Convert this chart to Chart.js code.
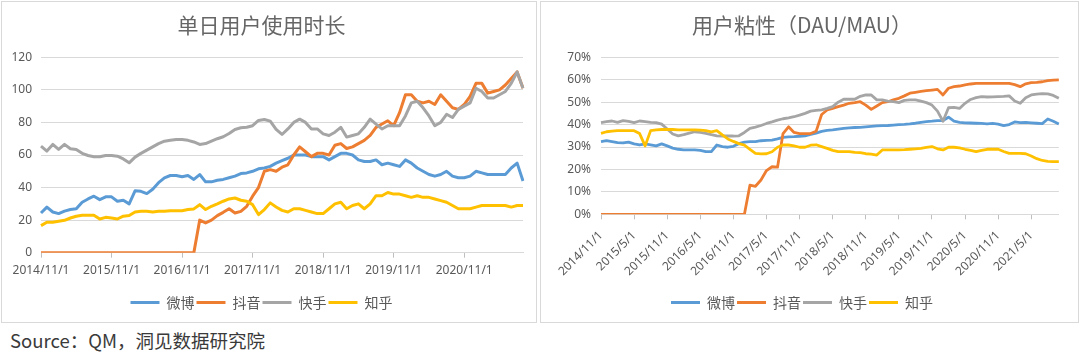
<!DOCTYPE html>
<html><head><meta charset="utf-8">
<script src="https://cdn.jsdelivr.net/npm/chart.js@4.4.1/dist/chart.umd.min.js"></script>
<style>
html,body{margin:0;padding:0;background:#fff;}
body{width:1080px;height:356px;position:relative;overflow:hidden;}
.panel{position:absolute;box-sizing:border-box;border:1px solid #d9d9d9;}
canvas{position:absolute;top:0;}
#source{position:absolute;left:10px;top:330.5px;font:18.5px/19px "Noto Sans CJK SC",sans-serif;color:#3a3a3a;white-space:nowrap;}
</style></head><body>
<div class="panel" style="left:1px;top:1px;width:536px;height:322px"></div>
<div class="panel" style="left:540px;top:1px;width:539px;height:322px"></div>
<canvas id="c1" width="540" height="322" style="left:0"></canvas>
<canvas id="c2" width="537" height="322" style="left:541px"></canvas>
<div id="source">Source：QM，洞见数据研究院</div>
<script>
// ---------- data ----------
function monthLabels(startYear, startMonth, count){
  const out=[]; let y=startYear, m=startMonth;
  for(let i=0;i<count;i++){ out.push(y+'/'+m+'/1'); m++; if(m>12){m=1;y++;} }
  return out;
}
const seriesNames = ['微博','抖音','快手','知乎'];
const seriesColors = ['#5b9bd5','#ed7d31','#a5a5a5','#ffc000'];

// 单日用户使用时长 (monthly, 2014/11 – 2021/9)
const leftCategories = monthLabels(2014, 11, 83);
const leftTickLabels = ['2014/11/1','2015/11/1','2016/11/1','2017/11/1','2018/11/1','2019/11/1','2020/11/1'];
const leftYTicks = [0,20,40,60,80,100,120];
const weiboTime = [24.4,28,25,24,25.5,26.5,27,31,33,34.7,
  32.6,34.3,34.3,31.6,32.2,30,38,37.7,36.3,39,
  43,46,47.4,47.4,46.6,47.4,45,48,43.5,43.5,
  44.5,45,46,47,48.6,49,50,51.5,52,53,
  55,56.5,58,60,60,60,59,59,59,57,
  59,61,61,60,57,56,56,57,54,55,
  54,53,57,55,52,50,48,47,48,50,
  47,46,46,47,50,49,48,48,48,48,
  52,55,44];
const douyinTime = [0,0,0,0,0,0,0,0,0,0,
  0,0,0,0,0,0,0,0,0,0,
  0,0,0,0,0,0,0,
  20,18.3,20,22.8,24.8,27,24.4,25.4,28.5,34.7,
  40,50,51,50,52.5,54,60,65,62,59,
  61,61,60,66,67,64,65,67,69,72,
  77,79,81,78,86,97,97,93,92,93,
  91,97,93,89,88,91,96,104,104,98,
  99,100,103,107,111,101];
const kuaishouTime = [65.4,62.4,66.5,63.4,66.5,63.8,63.4,61,59.7,58.9,
  58.9,59.7,59.7,59.3,57.6,55.2,58.7,61,63,65,
  67,68.5,69,69.5,69.5,69,68,66.5,67,68.5,
  70,71.2,73.2,75.7,76.7,77,78,81.2,81.8,80.8,
  75.7,72.6,76,80,82,80,76,76,73,72,
  74,77,71,72,73,77,82,79,76,78,
  78,78,84,92,93,89,84,78,80,85,
  83,88,90,92,101,99,95,95,97,99,
  104,111,101];
const zhihuTime = [16.6,18.7,18.7,19.3,19.9,21.3,22.4,23,23,23,
  20.7,21.7,21.3,20.7,22.4,22.8,25,25.4,25.4,25,
  25.4,25.4,25.8,25.8,25.8,26.5,26.9,29.5,26.5,28.5,
  30,31.6,33,33.6,32.2,31.6,29.5,23.4,26.5,30.6,
  28.1,26,25,27,27,26,25,24,24,27,
  30,31,27,29,30,27,30,35,35,37,
  36,36,35,34,35,34,34,33,32,31,
  29,27,27,27,28,29,29,29,29,29,
  28,29,29];

// 用户粘性 DAU/MAU (%, monthly, 2014/11 – 2021/10)
const rightCategories = monthLabels(2014, 11, 84);
const rightTickLabels = ['2014/11/1','2015/5/1','2015/11/1','2016/5/1','2016/11/1','2017/5/1','2017/11/1',
  '2018/5/1','2018/11/1','2019/5/1','2019/11/1','2020/5/1','2020/11/1','2021/5/1'];
const rightYTicks = [0,10,20,30,40,50,60,70];
const weiboDau = [32.4,32.8,32.4,32,31.8,32.2,31.4,30.9,31.4,31,
  30.5,31.4,30.5,29.5,29,28.7,28.7,28.7,28.5,27.9,
  27.9,30.9,30.2,29.9,30.3,31.5,32.2,32.4,32.4,32.8,
  33,33.1,33.6,34.3,34.5,34.6,34.8,35,35.6,36.2,
  37,37.4,37.6,38,38.3,38.5,38.7,38.8,39,39.2,
  39.4,39.5,39.6,39.8,40,40.1,40.3,40.6,41,41.3,
  41.5,41.8,41.8,43.3,41.5,41,40.8,40.7,40.6,40.5,
  40.3,40.5,40.2,39.5,40,41.2,40.9,41,40.8,40.6,
  40.4,42.5,41.5,40.3];
const douyinDau = [0,0,0,0,0,0,0,0,0,0,
  0,0,0,0,0,0,0,0,0,0,
  0,0,0,0,0,0,0,
  13,12.5,15.3,19.5,21.2,21,36,39,36.5,36,
  36,36,37,44.5,46.5,47.2,48,48.7,49.5,49.8,
  50.2,48.7,46.8,48.3,49.8,50.2,51,51.7,52.8,54,
  54.4,54.8,55.1,55.4,55.7,53.2,56.2,56.9,57.2,57.7,
  58.1,58.4,58.4,58.4,58.4,58.4,58.4,58.4,57.8,56.9,
  58.2,58.7,58.8,59.1,59.6,59.8,59.9];
const kuaishouDau = [40.9,41.3,41.6,41,41.8,41.4,40.9,41.6,41.3,41,
  40.9,40.2,38,35.8,35,35.5,36.2,36.8,36.5,36.1,
  35.5,35,34.9,34.9,34.9,35,36.5,38.3,38.9,39.6,
  40.5,41.2,42,42.6,43,43.5,44.2,45,46,46.3,
  46.6,47.2,48,50,51.3,51.3,51.3,52.6,53.2,53.2,
  51,51,50.5,50.2,49.8,50.8,51,51,50.5,49.8,
  48.7,46,41.5,47.5,47.7,47.2,49.5,51.2,52,52.5,
  52.3,52.4,52.5,52.6,52.8,50.5,49.5,52,53.2,53.6,
  53.8,53.7,53,51.7];
const zhihuDau = [36.1,36.8,37.1,37.3,37.3,37.3,37.3,36,30.5,37.3,
  37.6,37.8,37.9,37.8,37.6,37.6,37.6,37.6,37.5,37.3,
  36.8,37.3,35.4,33.6,32.5,31.5,30.8,29,27.2,26.9,
  27,27.9,29.9,30.9,30.9,30.5,29.9,29.9,30.8,31,
  30.2,29.4,28.5,27.9,27.9,27.9,27.6,27.5,27,26.8,
  26.4,28.7,28.7,28.7,28.7,28.8,29,29.2,29.4,29.8,
  30.2,29.2,28.7,29.9,29.9,29.6,29,28.5,27.9,28.5,
  29,29,29,28,27.2,27.2,27.2,27,26,24.8,
  24,23.6,23.5,23.5];

// ---------- chart builder ----------
const TICK_FONT = {family:'"Noto Sans", "Noto Sans CJK SC", sans-serif', size:12};
const CJK = '"Noto Sans CJK SC", sans-serif';
const GRID = '#d9d9d9';
const TEXT = '#595959';

function makeChart(id, o){
  const datasets = o.series.map((vals, k) => ({
    label: seriesNames[k],
    data: vals,
    borderColor: seriesColors[k],
    backgroundColor: seriesColors[k],
    borderWidth: o.lineWidth,
    pointRadius: 0,
    pointHoverRadius: 0,
    tension: 0,
    borderJoinStyle: 'round',
    fill: false,
    order: 4 - k
  }));
  return new Chart(document.getElementById(id), {
    type: 'line',
    data: { labels: o.categories, datasets },
    options: {
      responsive: false,
      animation: false,
      devicePixelRatio: 1,
      layout: { padding: { left: 0, right: o.padRight, top: 0, bottom: 2.5 } },
      plugins: {
        tooltip: { enabled: false },
        title: {
          display: true, text: o.title, color: '#666',
          font: { family: CJK, size: 21, weight: 'normal' },
          padding: { top: 12, bottom: 20.1 }
        },
        legend: {
          position: 'bottom',
          labels: {
            color: TEXT, font: { family: CJK, size: 14 },
            boxWidth: 29, boxHeight: 3, padding: 2,
            sort: (a, b) => a.datasetIndex - b.datasetIndex,
            generateLabels: (chart) => Chart.defaults.plugins.legend.labels.generateLabels(chart)
              .map(it => Object.assign(it, { fillStyle: it.strokeStyle, lineWidth: 0 }))
          }
        }
      },
      scales: {
        x: {
          type: 'category',
          offset: false,
          afterFit: s => { s.height = o.xAxisHeight; },
          border: { display: true, color: GRID, width: 1 },
          grid: {
            drawOnChartArea: false, drawTicks: true, tickLength: 5, tickWidth: 1,
            tickColor: ctx => (ctx.index % o.tickStep === 0) ? '#bfbfbf' : 'rgba(0,0,0,0)'
          },
          ticks: {
            autoSkip: false, maxRotation: o.rotation, minRotation: o.rotation,
            padding: o.xPad, color: TEXT, font: TICK_FONT,
            callback: (v, i) => (i % o.tickStep === 0) ? (o.tickLabels[i / o.tickStep] || '') : ''
          }
        },
        y: {
          min: o.yTicks[0], max: o.yTicks[o.yTicks.length - 1],
          afterFit: s => { s.width = o.yAxisWidth; },
          afterBuildTicks: s => { s.ticks = o.yTicks.map(v => ({ value: v })); },
          border: { display: false },
          grid: { color: GRID, lineWidth: 1, drawTicks: false },
          ticks: {
            padding: o.yPad, color: TEXT, font: TICK_FONT,
            callback: v => v + o.ySuffix
          }
        }
      }
    }
  });
}

makeChart('c1', {
  title: '单日用户使用时长',
  categories: leftCategories,
  series: [weiboTime, douyinTime, kuaishouTime, zhihuTime],
  tickLabels: leftTickLabels, tickStep: 12, rotation: 0, xPad: 5.8,
  yTicks: leftYTicks, ySuffix: '', yPad: 9,
  yAxisWidth: 41, xAxisHeight: 40.8, padRight: 17, lineWidth: 3
});
makeChart('c2', {
  title: '用户粘性（DAU/MAU）',
  categories: rightCategories,
  series: [weiboDau, douyinDau, kuaishouDau, zhihuDau],
  tickLabels: rightTickLabels, tickStep: 6, rotation: 45, xPad: 9,
  yTicks: rightYTicks, ySuffix: '%', yPad: 10,
  yAxisWidth: 60, xAxisHeight: 79.2, padRight: 15, lineWidth: 2.8
});
</script>
</body></html>
